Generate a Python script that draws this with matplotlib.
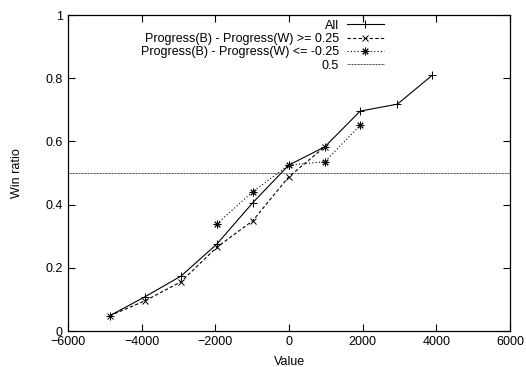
import matplotlib
matplotlib.use('Agg')
import matplotlib.pyplot as plt

plt.rcParams['font.family'] = ['Liberation Sans', 'DejaVu Sans']
plt.rcParams['font.size'] = 9

x_all = [-4870, -3900, -2930, -1960, -985, -8, 970, 1930, 2940, 3890]
y_all = [0.048, 0.109, 0.174, 0.275, 0.406, 0.525, 0.583, 0.696, 0.718, 0.81]

x_pos = [-4870, -3900, -2930, -1960, -985, -8, 970]
y_pos = [0.048, 0.096, 0.156, 0.265, 0.349, 0.488, 0.583]

x_neg = [-1960, -985, -8, 970, 1930]
y_neg = [0.339, 0.441, 0.525, 0.536, 0.651]

level = 0.5

fig = plt.figure(figsize=(5.26, 3.67), dpi=100)
ax = fig.add_axes([0.129, 0.098, 0.841, 0.861])

ax.plot(x_all, y_all, color='black', lw=0.8, ls='-', marker='+', ms=6, mew=0.7, label='All')
ax.plot(x_pos, y_pos, color='black', lw=0.8, ls=(0, (3, 2)), marker='x', ms=5, mew=0.7,
        label='Progress(B) - Progress(W) >= 0.25')
ax.plot(x_neg, y_neg, color='black', lw=0.8, ls=(0, (1, 2)), marker=(8, 2, 0), ms=5.5, mew=0.7,
        label='Progress(B) - Progress(W) <= -0.25')
ax.axhline(level, color='black', lw=0.6, ls=(0, (1, 0.8)), label='0.5')

ax.set_xlim(-6000, 6000)
ax.set_ylim(0, 1)
ax.set_xticks(range(-6000, 6001, 2000))
ax.set_yticks([0, 0.2, 0.4, 0.6, 0.8, 1])
ax.set_yticklabels(['0', '0.2', '0.4', '0.6', '0.8', '1'])
ax.tick_params(direction='in', top=True, right=True, length=5, width=0.8)
for s in ax.spines.values():
    s.set_linewidth(0.9)

ax.set_xlabel('Value', labelpad=6)
ax.set_ylabel('Win ratio', labelpad=16)

leg = ax.legend(loc='upper right', bbox_to_anchor=(0.715, 0.985), frameon=False,
                markerfirst=False, handlelength=3.0, handletextpad=0.6,
                labelspacing=0.1, borderaxespad=0, borderpad=0)

plt.savefig('out.png', dpi=100)
